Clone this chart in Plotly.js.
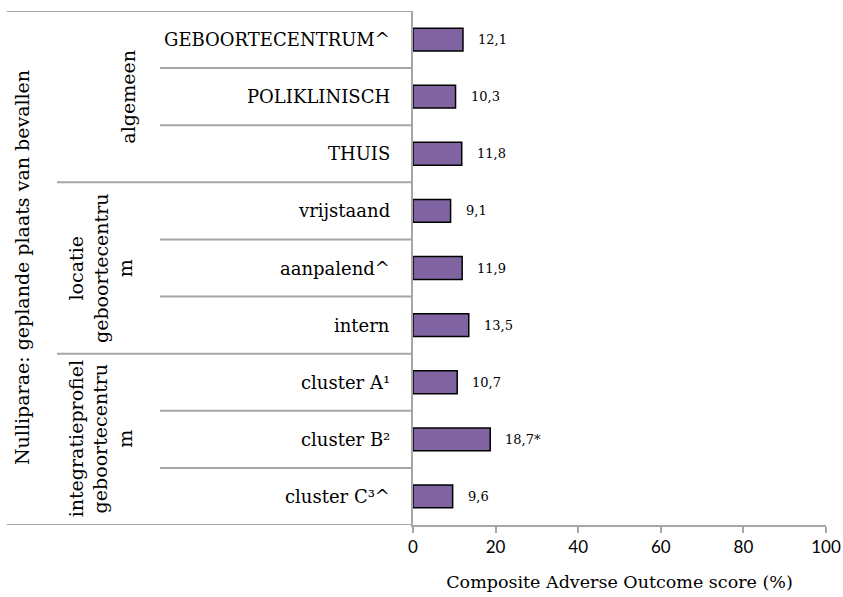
<!DOCTYPE html>
<html><head><meta charset="utf-8">
<script src="https://cdn.plot.ly/plotly-3.0.1.min.js"></script>
<style>body{margin:0;background:#fff;} #chart{width:843px;height:597px;}</style>
</head><body><div id="chart"></div>
<script>
const categories = ["GEBOORTECENTRUM^","POLIKLINISCH","THUIS","vrijstaand","aanpalend^","intern","cluster A\u00B9","cluster B\u00B2","cluster C\u00B3^"];
const values = [12.1,10.3,11.8,9.1,11.9,13.5,10.7,18.7,9.6];
const valueLabels = ["12,1","10,3","11,8","9,1","11,9","13,5","10,7","18,7*","9,6"];
const groupLabels = ["algemeen","locatie<br>geboortecentru<br>m","integratieprofiel<br>geboortecentru<br>m"];
const groupStarts = [0,3,6];
const groupEnds = [2,5,8];
const xTicks = [0,20,40,60,80,100];
const yTitle = "Nulliparae: geplande plaats van bevallen";
const xTitle = "Composite Adverse Outcome score (%)";

const L = 413, PW = 413;
const px = p => (p - L) / PW;
const serif = "DejaVu Serif";
const gray = "#a6a6a6";
const idx = categories.map((_, i) => i);

const shapes = [];
for (let b = 0; b <= categories.length; b++) {
  const y = b - 0.5;
  let x0;
  if (b === 0 || b === categories.length) x0 = px(7);
  else if (groupStarts.includes(b)) x0 = px(57);
  else x0 = px(160);
  shapes.push({type:"line", xref:"paper", yref:"y", x0:x0, x1:0, y0:y, y1:y,
    line:{color:gray, width:2}});
}

const annotations = [];
categories.forEach((c, i) => annotations.push({
  xref:"paper", yref:"y", x:px(392), y:i, text:c, showarrow:false,
  xanchor:"right", yanchor:"middle", font:{family:serif, size:18, color:"#000"}
}));
values.forEach((v, i) => annotations.push({
  xref:"x", yref:"y", x:v, y:i, text:valueLabels[i], showarrow:false,
  xanchor:"left", yanchor:"middle", xshift:13, font:{family:serif, size:13, color:"#000"}
}));
const groupX = [128, 100, 100];
groupLabels.forEach((g, k) => annotations.push({
  xref:"paper", yref:"y", x:px(groupX[k]), y:(groupStarts[k]+groupEnds[k])/2, text:g,
  showarrow:false, textangle:-90, xanchor:"center", yanchor:"middle",
  font:{family:serif, size:19, color:"#000"}
}));
annotations.push({xref:"paper", yref:"paper", x:px(22), y:0.5, text:yTitle, showarrow:false,
  textangle:-90, xanchor:"center", yanchor:"middle", font:{family:serif, size:19, color:"#000"}});

const data = [{
  type:"bar", orientation:"h", x:values, y:idx,
  marker:{color:"#8064a2", line:{color:"#000", width:1.5}},
  hoverinfo:"skip"
}];

const layout = {
  width:843, height:597,
  margin:{l:413, r:17, t:11, b:72},
  paper_bgcolor:"#fff", plot_bgcolor:"#fff",
  bargap:0.6, showlegend:false,
  xaxis:{range:[0,100], tickvals:xTicks, ticktext:xTicks.map(String), showgrid:false, zeroline:false,
    showline:true, linecolor:gray, linewidth:2, ticks:"outside", ticklen:6, tickwidth:2, tickcolor:gray,
    tickfont:{family:"Lato", size:17, color:"#000"},
    title:{text:xTitle, font:{family:serif, size:17.5, color:"#000"}, standoff:19}},
  yaxis:{range:[categories.length-0.5,-0.5], showticklabels:false, ticks:"", showgrid:false, zeroline:false,
    showline:true, linecolor:gray, linewidth:2},
  shapes:shapes, annotations:annotations
};
Plotly.newPlot("chart", data, layout, {displayModeBar:false, staticPlot:true});
</script></body></html>
